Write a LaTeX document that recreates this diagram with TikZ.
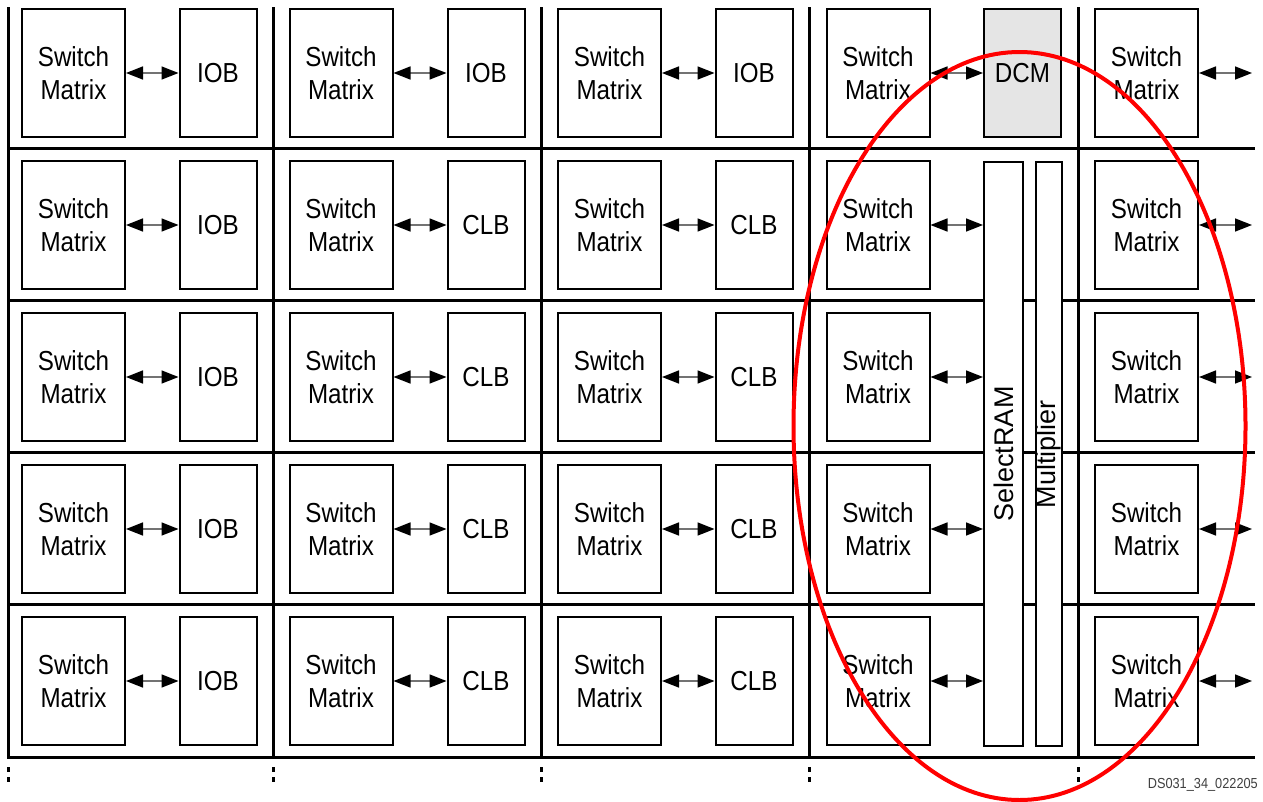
\documentclass[tikz,border=0pt]{standalone}
\usepackage{fontspec}
\setmainfont{Liberation Sans}
\newfontfamily\narrowfont[FakeStretch=0.88]{Liberation Sans}
\usetikzlibrary{arrows.meta}

\begin{document}
\begin{tikzpicture}[x=1pt, y=-1pt,
		blok/.style={draw, line width=2pt, minimum height=128pt, inner sep=0pt, align=center, font=\narrowfont\fontsize{27.5}{33}\selectfont},
		sm/.style={blok, minimum width=103pt},
		logic/.style={blok, minimum width=77pt},
		tall/.style={blok, fill=white, rotate=90, minimum width=584pt, font=\fontsize{27}{30}\selectfont},
		link/.style={{Triangle[length=17pt,width=13pt,color=black]}-{Triangle[length=17pt,width=13pt,color=black]}, draw=black!55, line width=1.6pt},
		bus/.style={line width=3pt, line cap=rect}]
	\useasboundingbox (0,0) rectangle (1263,801);

	% ===== linie =====
	\foreach \y in {148,300,452,604,757}
		\draw[bus] (8,\y) -- (1253,\y);
	\foreach \x in {8,273,541,809,1078} {
		\draw[bus] (\x,8) -- (\x,757);
		\draw[line width=3pt, line cap=butt, dash pattern=on 5pt off 5pt] (\x,767) -- (\x,782);
	}

	% ===== kolumny 1-3 =====
	\foreach \r/\y/\lab in {1/73/IOB, 2/225/CLB, 3/377/CLB, 4/529/CLB, 5/681/CLB} {
		\node[sm] (sm-1-\r) at (73.5,\y) {Switch\\Matrix};
		\node[logic] (io-\r) at (218,\y) {IOB};
		\draw[link] (sm-1-\r) -- (io-\r);
		\node[sm] (sm-2-\r) at (341,\y) {Switch\\Matrix};
		\node[logic] (b2-\r) at (486,\y) {\lab};
		\draw[link] (sm-2-\r) -- (b2-\r);
		\node[sm] (sm-3-\r) at (609.5,\y) {Switch\\Matrix};
		\node[logic] (b3-\r) at (754,\y) {\lab};
		\draw[link] (sm-3-\r) -- (b3-\r);
	}

	% ===== kolumna 4 =====
	\node[logic, fill=gray!20] (dcm) at (1022.5,73) {DCM};
	\node[tall, minimum height=39pt] (ram) at (1003.5,454) {SelectRAM};
	\node[tall, minimum height=26pt] (mult) at (1049,454) {Multiplier};
	\foreach \r/\y in {1/73, 2/225, 3/377, 4/529, 5/681}
		\node[sm] (sm-4-\r) at (878,\y) {Switch\\Matrix};
	\draw[link] (sm-4-1) -- (dcm);
	\foreach \r in {2,...,5}
		\draw[link] (sm-4-\r.east) -- (sm-4-\r.east -| ram.north);

	% ===== kolumna 5 =====
	\foreach \r/\y in {1/73, 2/225, 3/377, 4/529, 5/681} {
		\node[sm] (sm-5-\r) at (1146.5,\y) {Switch\\Matrix};
		\coordinate (out-\r) at (1252,\y);
		\draw[link] (sm-5-\r) -- (out-\r);
	}

	% ===== zaznaczenie =====
	\draw[red, line width=4pt] (1019.5,426) ellipse [x radius=226pt, y radius=374pt];
	\node[anchor=base east, inner sep=0pt, font=\narrowfont\fontsize{14.5}{16}\selectfont, text=black!75] (tag) at (1258,788) {DS031\_34\_022205};
\end{tikzpicture}
\end{document}
